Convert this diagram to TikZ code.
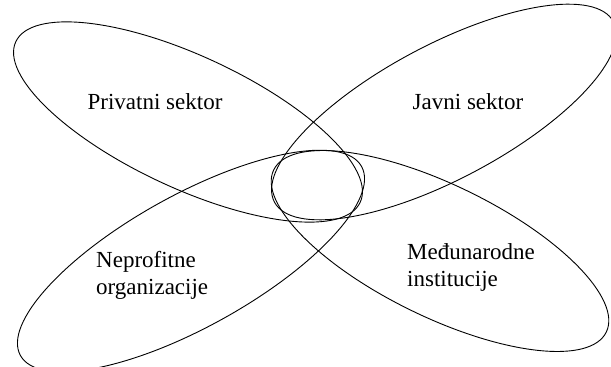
\documentclass[tikz,border=0pt]{standalone}
\usepackage{fontspec}
\setmainfont{Liberation Serif}
\usetikzlibrary{shapes.geometric}
\tikzset{
  latica/.style={
    ellipse,
    draw=black,
    line width=.9pt,
    inner sep=0pt
  },
  oznaka/.style={
    align=left,
    inner sep=0pt,
    font=\fontsize{23}{27}\selectfont
  }
}
\begin{document}
\begin{tikzpicture}[x=1pt,y=1pt]
\useasboundingbox (0,0) rectangle (611,367);
% latice
\node[latica,minimum width=380pt,minimum height=132pt,rotate=-25] (privatni) at (188,245) {};
\node[latica,minimum width=384pt,minimum height=134pt,rotate=28] (javni) at (444,255) {};
\node[latica,minimum width=390pt,minimum height=132pt,rotate=29] (neprofitne) at (191,106) {};
\node[latica,minimum width=370pt,minimum height=132pt,rotate=-26] (medjunarodne) at (440,116) {};
% natpisi
\node[oznaka] (tprivatni) at (155,265) {Privatni sektor};
\node[oznaka] (tjavni) at (468,265) {Javni sektor};
\node[oznaka,anchor=west] (tneprofitne) at (96,92) {Neprofitne\\organizacije};
\node[oznaka,anchor=west] (tmedjunarodne) at (407,100) {Međunarodne\\institucije};
\end{tikzpicture}
\end{document}
